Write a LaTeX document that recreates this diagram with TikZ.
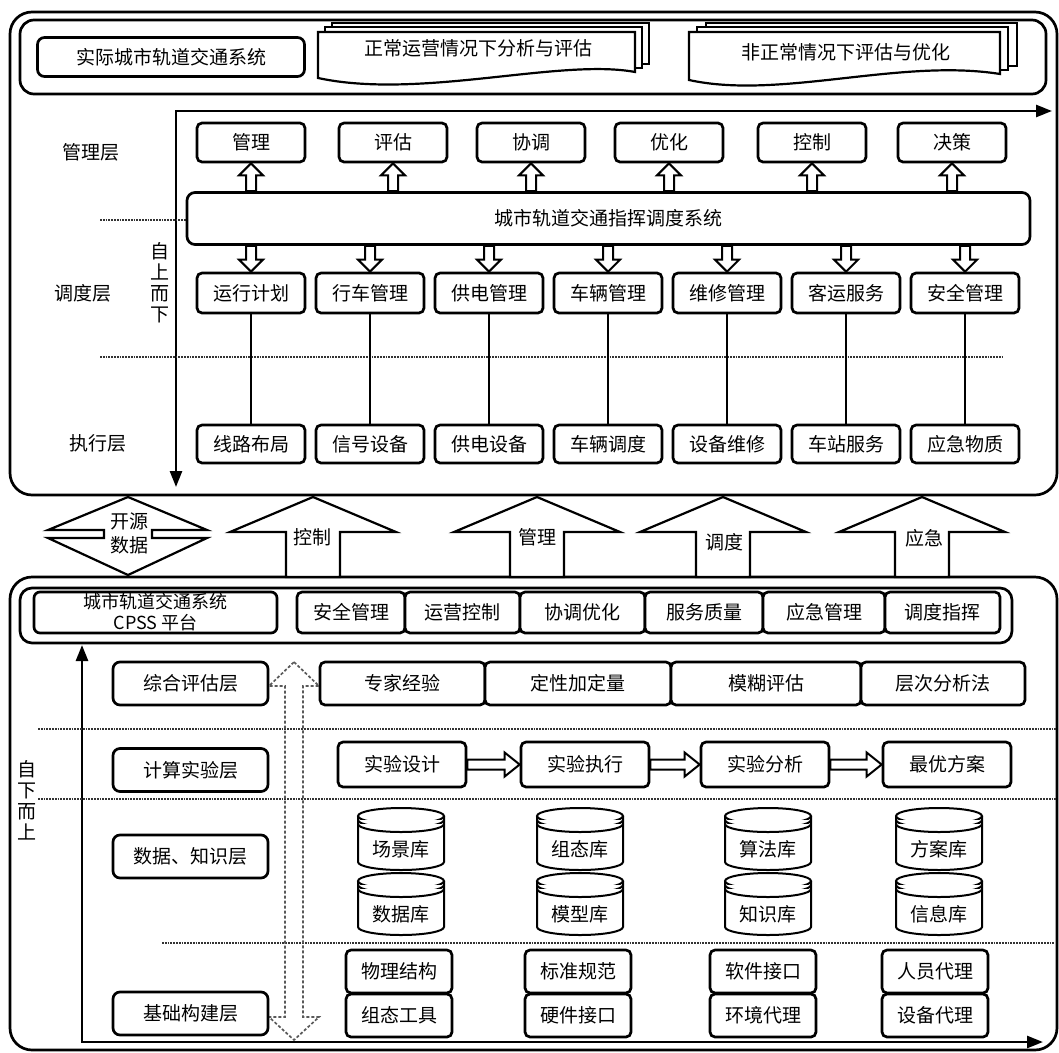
\documentclass[tikz,border=0pt]{standalone}
\usepackage{fontspec}
\setmainfont{Noto Sans CJK SC}
\usetikzlibrary{arrows.meta}
\usetikzlibrary{calc}
\newcommand*{\hollowUp}[2]{% #1 = lower node, #2 = upper node
   \draw[hollow] ($(#1.north -| #2.south)+(-5,0)$) -- ($(#2.south)+(-5,12)$) -- ($(#2.south)+(-12,12)$) -- (#2.south)
      -- ($(#2.south)+(12,12)$) -- ($(#2.south)+(5,12)$) -- ($(#1.north -| #2.south)+(5,0)$) -- cycle;
}
\newcommand*{\hollowDown}[2]{% #1 = upper node, #2 = lower node
   \draw[hollow] ($(#1.south -| #2.north)+(-5,0)$) -- ($(#2.north)+(-5,-12)$) -- ($(#2.north)+(-12,-12)$) -- (#2.north)
      -- ($(#2.north)+(12,-12)$) -- ($(#2.north)+(5,-12)$) -- ($(#1.south -| #2.north)+(5,0)$) -- cycle;
}
\newcommand*{\hollowRight}[2]{% #1 = left node, #2 = right node
   \draw[hollow] ($(#1.east |- #2.west)+(0,-5)$) -- ($(#2.west)+(-15,-5)$) -- ($(#2.west)+(-15,-12)$) -- (#2.west)
      -- ($(#2.west)+(-15,12)$) -- ($(#2.west)+(-15,5)$) -- ($(#1.east |- #2.west)+(0,5)$) -- cycle;
}
\newcommand*{\dbCylinder}[4]{% #1 = name, #2 = x, #3 = y, #4 = label
   \begin{scope}[shift={(#2,#3)}]
      \draw[drum] (-43,-23) -- (-43,23) arc[start angle=180, end angle=0, x radius=43, y radius=8] -- (43,-23);
      \draw[drum] (0,-23) ellipse[x radius=43, y radius=8];
      \draw[drum] (-43,-19) arc[start angle=180, end angle=0, x radius=43, y radius=8];
      \draw[drum] (-43,-15) arc[start angle=180, end angle=0, x radius=43, y radius=8];
   \end{scope}
   \node (#1) at (#2,#3+10) {#4};
}

\begin{document}
\begin{tikzpicture}[
		x=1pt, y=-1pt,
		font=\fontsize{19}{22}\selectfont,
		box/.style={draw, line width=2.7, rounded corners=5, fill=white, minimum width=108, minimum height=39, inner sep=0},
		panel/.style={draw, line width=2.7, rounded corners=22},
		page/.style={draw, line width=2.2, fill=white},
		hollow/.style={draw, line width=2, fill=white},
		bigarrow/.style={draw, line width=2.2, fill=white},
		drum/.style={draw, line width=2, fill=white},
		axis/.style={line width=2.6, {Triangle[length=16pt, width=12pt]}-{Triangle[length=16pt, width=12pt]}},
		sep/.style={densely dotted, line width=1.8, black!80},
		link/.style={line width=2.6},
		vtext/.style={align=center, font=\fontsize{19}{21}\selectfont}
	]
		\useasboundingbox (0,0) rectangle (1059,1052);

		% upper part
		\draw[panel] (10,12) rectangle (1057,495);
		\draw[panel, rounded corners=14] (20,20) rectangle (1046,94);
		\node[box, minimum width=267, minimum height=39, rounded corners=7] (real) at (171,57) {实际城市轨道交通系统};
		\draw[page] (332,23) rectangle (649,64);
		\draw[page] (325,27) rectangle (642,68);
		\draw[page] (318,32) -- (635,32) -- (635,72) .. controls (560,58) and (420,100) .. (318,78) -- cycle;
		\node (normal) at (478,48) {正常运营情况下分析与评估};
		\draw[page] (706,23) rectangle (1017,66);
		\draw[page] (697,27) rectangle (1008,70);
		\draw[page] (689,32) -- (1000,32) -- (1000,74) .. controls (900,58) and (780,100) .. (689,80) -- cycle;
		\node (abnormal) at (846,52) {非正常情况下评估与优化};

		\draw[axis] (1052,111) -- (176,111) -- (176,487);
		\node[vtext] (topdown) at (160,283) {自\\上\\而\\下};
		\node (lmgmt) at (91,152) {管理层};
		\node (ldisp) at (83,293) {调度层};
		\node (lexec) at (98,443) {执行层};
		\draw[sep] (100,220) -- (187,220);
		\draw[sep] (100,357) -- (1003,357);

		\node[box, minimum width=843, minimum height=52, rounded corners=8] (sys) at (608.5,218.5) {城市轨道交通指挥调度系统};
		\foreach \x/\t [count=\i] in {251/管理, 393/评估, 531/协调, 669/优化, 812/控制, 952/决策}
		{
			\node[box] (m\i) at (\x,142.5) {\t};
			\hollowUp{sys}{m\i}
		}
		\foreach \x/\t/\u [count=\i] in {251/运行计划/线路布局, 370/行车管理/信号设备, 489/供电管理/供电设备, 608/车辆管理/车辆调度,
			727/维修管理/设备维修, 846/客运服务/车站服务, 965/安全管理/应急物质}
		{
			\node[box, minimum height=40] (d\i) at (\x,293) {\t};
			\node[box, minimum height=38] (ex\i) at (\x,444) {\u};
			\hollowDown{sys}{d\i}
			\draw[link] (d\i.south) -- (ex\i.north);
		}

		% arrows between the parts
		\draw[panel] (10,577) rectangle (1057,1050);
		\draw[bigarrow] (128,497) -- (207,530) -- (152,530) -- (152,538) -- (207,538) -- (128,575) -- (48,538) -- (104,538) -- (104,530) -- (48,530) -- cycle;
		\node[align=center, font=\fontsize{19}{24}\selectfont] (open) at (129,533) {开源\\数据};
		\foreach \c in {313,537,723,922}
			\draw[bigarrow] (\c,497) -- ++(83,35) -- ++(-56,0) -- (\c+27,577) -- (\c-27,577) -- (\c-27,532) -- (\c-83,532) -- cycle;
		\node (ctl) at (312,537) {控制};
		\node (mgt) at (537,537) {管理};
		\node (dsp) at (724,542) {调度};
		\node (emg) at (924,538) {应急};

		% lower part
		\draw[panel, rounded corners=12] (20,588) rectangle (1012,643);
		\node[box, minimum width=243, minimum height=41, rounded corners=6, align=center, font=\fontsize{18}{21}\selectfont] (cpss) at (155.5,612.5) {城市轨道交通系统\\CPSS 平台};
		\foreach \x/\w/\t [count=\i] in {351/108/安全管理, 462.5/115/运营控制, 582.5/125/协调优化, 704/118/服务质量, 824/122/应急管理, 942.5/115/调度指挥}
			\node[box, minimum width=\w, minimum height=41] (s\i) at (\x,612.5) {\t};

		\draw[axis] (82,645) -- (82,1042) -- (1043,1042);
		\node[vtext] (bottomup) at (27,800) {自\\下\\而\\上};

		\draw[sep] (38,729) -- (1057,729);
		\draw[sep] (38,799) -- (1057,799);
		\draw[sep] (162,943) -- (1055,943);
		\draw[densely dashed, line width=1.7, black!65] (294,662) -- (319,686) -- (303,686) -- (303,1017) -- (319,1017) -- (294,1040)
			-- (269,1017) -- (285,1017) -- (285,686) -- (269,686) -- cycle;

		\node[box, minimum width=155, minimum height=43, rounded corners=7] (leval) at (190.5,683.5) {综合评估层};
		\node[box, minimum width=155, minimum height=43, rounded corners=7] (lexp) at (190.5,770) {计算实验层};
		\node[box, minimum width=155, minimum height=43, rounded corners=7] (ldata) at (190.5,856.5) {数据、知识层};
		\node[box, minimum width=155, minimum height=43, rounded corners=7] (lbase) at (190.5,1013.5) {基础构建层};

		\foreach \x/\w/\t [count=\i] in {402.5/165/专家经验, 578/186/定性加定量, 766/190/模糊评估, 943/164/层次分析法}
			\node[box, minimum width=\w, minimum height=43] (v\i) at (\x,683.5) {\t};

		\foreach \x/\t [count=\i] in {402/实验设计, 585/实验执行, 765/实验分析, 947/最优方案}
			\node[box, minimum width=128, minimum height=45] (x\i) at (\x,764.5) {\t};
		\hollowRight{x1}{x2}
		\hollowRight{x2}{x3}
		\hollowRight{x3}{x4}

		\dbCylinder{db1}{401}{839}{场景库}
		\dbCylinder{db2}{401}{904}{数据库}
		\dbCylinder{db3}{580}{839}{组态库}
		\dbCylinder{db4}{580}{904}{模型库}
		\dbCylinder{db5}{768}{839}{算法库}
		\dbCylinder{db6}{768}{904}{知识库}
		\dbCylinder{db7}{939}{839}{方案库}
		\dbCylinder{db8}{939}{904}{信息库}

		\foreach \x/\t/\u [count=\i] in {399/物理结构/组态工具, 578/标准规范/硬件接口, 763/软件接口/环境代理, 935/人员代理/设备代理}
		{
			\node[box, minimum width=106, minimum height=43] (b\i) at (\x,971.5) {\t};
			\node[box, minimum width=106, minimum height=43] (c\i) at (\x,1015.5) {\u};
		}
	\end{tikzpicture}
\end{document}
